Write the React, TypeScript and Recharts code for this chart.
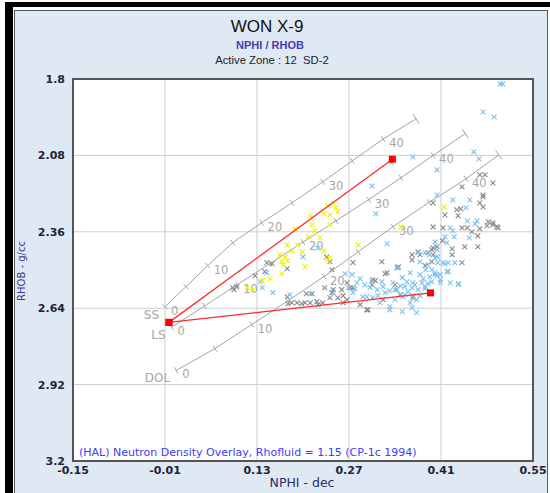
import { ScatterChart, Scatter, XAxis, YAxis, CartesianGrid } from 'recharts'

// axis ticks
const xTicks = [-0.15, -0.01, 0.13, 0.27, 0.41, 0.55]
const yTicks = [1.8, 2.08, 2.36, 2.64, 2.92, 3.2]

// porosity marks along each lithology line (p.u.)
const porosity = [0, 5, 10, 15, 20, 25, 30, 35, 40, 45]

const ssNphi = [-0.010, 0.022, 0.055, 0.093, 0.137, 0.183, 0.230, 0.275, 0.322, 0.372]
const ssRhob = [2.635, 2.561, 2.484, 2.400, 2.327, 2.254, 2.177, 2.100, 2.020, 1.946]
const lsNphi = [0.000, 0.050, 0.100, 0.150, 0.200, 0.250, 0.300, 0.349, 0.398, 0.447]
const lsRhob = [2.710, 2.632, 2.554, 2.476, 2.398, 2.320, 2.242, 2.162, 2.080, 2.000]
const dolNphi = [0.007, 0.066, 0.122, 0.177, 0.232, 0.284, 0.337, 0.392, 0.448, 0.498]
const dolRhob = [2.868, 2.788, 2.700, 2.613, 2.524, 2.433, 2.341, 2.252, 2.166, 2.078]

// red overlay lines: origin -> two end points
const redOrigin: [number, number] = [-0.004, 2.692]
const redUpper: [number, number] = [0.336, 2.094]
const redLower: [number, number] = [0.394, 2.584]

const yellowPts: [number, number][] = [
  [0.238, 2.265], [0.246, 2.254], [0.250, 2.272], [0.253, 2.287], [0.232, 2.294], [0.241, 2.298],
  [0.211, 2.301], [0.214, 2.334], [0.218, 2.356], [0.208, 2.378], [0.226, 2.382], [0.188, 2.349],
  [0.176, 2.408], [0.183, 2.430], [0.192, 2.408], [0.199, 2.433], [0.165, 2.444], [0.173, 2.452],
  [0.168, 2.470], [0.176, 2.466], [0.170, 2.481], [0.168, 2.514], [0.232, 2.430], [0.237, 2.463],
  [0.240, 2.455], [0.203, 2.488], [0.150, 2.532], [0.138, 2.539], [0.115, 2.565], [0.124, 2.572],
  [0.284, 2.408], [0.349, 2.342], [0.415, 2.269], [0.241, 2.334],
]

const grayPts: [number, number][] = [
  [0.145, 2.473], [0.153, 2.477], [0.176, 2.495], [0.142, 2.506], [0.127, 2.521], [0.099, 2.561],
  [0.093, 2.565], [0.095, 2.572], [0.191, 2.620], [0.211, 2.620], [0.233, 2.565], [0.246, 2.572],
  [0.259, 2.572], [0.241, 2.602], [0.253, 2.602], [0.261, 2.620], [0.241, 2.470], [0.244, 2.499],
  [0.205, 2.587], [0.177, 2.624], [0.198, 2.624], [0.223, 2.627], [0.176, 2.598], [0.183, 2.620],
  [0.203, 2.620], [0.221, 2.616], [0.230, 2.620], [0.214, 2.587], [0.244, 2.583], [0.261, 2.594],
  [0.287, 2.627], [0.299, 2.646], [0.236, 2.452], [0.276, 2.473], [0.272, 2.565], [0.320, 2.470],
  [0.328, 2.510], [0.343, 2.492], [0.366, 2.463], [0.378, 2.444], [0.390, 2.437], [0.396, 2.426],
  [0.404, 2.415], [0.306, 2.536], [0.305, 2.554], [0.267, 2.547], [0.276, 2.565], [0.340, 2.554],
  [0.348, 2.591], [0.322, 2.609], [0.267, 2.609], [0.398, 2.254], [0.416, 2.298], [0.434, 2.279],
  [0.440, 2.276], [0.436, 2.301], [0.474, 2.269], [0.474, 2.232], [0.482, 2.323], [0.489, 2.334],
  [0.497, 2.345], [0.442, 2.345], [0.450, 2.345], [0.469, 2.349], [0.457, 2.360], [0.398, 2.342],
  [0.413, 2.345], [0.466, 2.375], [0.412, 2.393], [0.398, 2.419], [0.427, 2.422], [0.446, 2.415],
  [0.466, 2.415], [0.427, 2.444], [0.398, 2.444], [0.442, 2.473], [0.396, 2.470], [0.442, 2.195],
  [0.469, 2.151], [0.477, 2.151], [0.489, 2.181], [0.474, 2.225], [0.469, 2.254], [0.480, 2.338],
  [0.489, 2.327], [0.495, 2.342], [0.366, 2.444], [0.375, 2.433], [0.345, 2.488], [0.325, 2.514],
  [0.310, 2.539], [0.386, 2.484], [0.367, 2.602], [0.297, 2.646],
]

const bluePts: [number, number][] = [
  [0.500, 1.818], [0.504, 1.818], [0.474, 1.921], [0.491, 1.939], [0.460, 2.067], [0.468, 2.093],
  [0.404, 2.133], [0.367, 2.086], [0.335, 2.107], [0.305, 2.192], [0.404, 2.225], [0.311, 2.294],
  [0.428, 2.243], [0.454, 2.243], [0.448, 2.272], [0.465, 2.320], [0.462, 2.331], [0.450, 2.320],
  [0.424, 2.345], [0.428, 2.356], [0.416, 2.378], [0.430, 2.378], [0.453, 2.382], [0.401, 2.397],
  [0.419, 2.400], [0.404, 2.426], [0.405, 2.452], [0.401, 2.455], [0.413, 2.473], [0.421, 2.473],
  [0.431, 2.473], [0.419, 2.506], [0.409, 2.517], [0.401, 2.517], [0.409, 2.547], [0.424, 2.547],
  [0.437, 2.550], [0.396, 2.543], [0.328, 2.404], [0.345, 2.492], [0.264, 2.514], [0.287, 2.532],
  [0.269, 2.565], [0.279, 2.569], [0.276, 2.583], [0.375, 2.437], [0.386, 2.437], [0.393, 2.444],
  [0.378, 2.470], [0.390, 2.481], [0.363, 2.510], [0.378, 2.517], [0.393, 2.525], [0.404, 2.521],
  [0.358, 2.543], [0.367, 2.547], [0.381, 2.547], [0.355, 2.561], [0.366, 2.565], [0.375, 2.572],
  [0.386, 2.569], [0.343, 2.572], [0.332, 2.576], [0.322, 2.561], [0.313, 2.572], [0.302, 2.565],
  [0.294, 2.554], [0.305, 2.543], [0.320, 2.543], [0.337, 2.547], [0.351, 2.528], [0.367, 2.594],
  [0.352, 2.598], [0.306, 2.602], [0.291, 2.598], [0.317, 2.620], [0.332, 2.635], [0.363, 2.620],
  [0.373, 2.609], [0.409, 2.536], [0.436, 2.554], [0.386, 2.561], [0.351, 2.653], [0.373, 2.656],
  [0.366, 2.638], [0.332, 2.646], [0.297, 2.598], [0.421, 2.506], [0.405, 2.473], [0.416, 2.477],
  [0.401, 2.510], [0.223, 2.419], [0.200, 2.452], [0.145, 2.510], [0.138, 2.565], [0.154, 2.583],
  [0.180, 2.591], [0.211, 2.587], [0.246, 2.583], [0.135, 2.543], [0.275, 2.517], [0.282, 2.547],
  [0.340, 2.572], [0.348, 2.558], [0.360, 2.580], [0.370, 2.554], [0.383, 2.532], [0.390, 2.550],
  [0.396, 2.499], [0.387, 2.499], [0.355, 2.591], [0.378, 2.594], [0.325, 2.583], [0.314, 2.594],
  [0.340, 2.609],
]

// plot box in page pixels
const PLOT = { left: 73, top: 79, right: 533, bottom: 461 }
const pxPerX = (PLOT.right - PLOT.left) / (xTicks[5] - xTicks[0])
const pxPerY = (PLOT.bottom - PLOT.top) / (yTicks[5] - yTicks[0])

const GRAY_LINE = '#a3a3a3'
const LABEL_GRAY = '#a6a6a6'

function lithoLine(nphi: number[], rhob: number[], name: string) {
  const n = nphi.length
  return nphi.map((x, i) => {
    const a = Math.max(i - 1, 0)
    const b = Math.min(i + 1, n - 1)
    const ang = Math.atan2((rhob[b] - rhob[a]) * pxPerY, (nphi[b] - nphi[a]) * pxPerX)
    return { x, y: rhob[i], phi: porosity[i], ang, name, last: i === n - 1 }
  })
}

const ssData = lithoLine(ssNphi, ssRhob, 'SS')
const lsData = lithoLine(lsNphi, lsRhob, 'LS')
const dolData = lithoLine(dolNphi, dolRhob, 'DOL')

const toXY = (pts: [number, number][]) => pts.map(([x, y]) => ({ x, y }))

const LithoTick = (p: any) => {
  const { cx, cy, payload } = p
  const len = payload.last ? 5.5 : 3.5
  const nx = -Math.sin(payload.ang) * len
  const ny = Math.cos(payload.ang) * len
  const font = { fontFamily: 'DejaVu Sans', fontSize: 11.5, fill: LABEL_GRAY }
  return (
    <g>
      <line x1={cx - nx} y1={cy - ny} x2={cx + nx} y2={cy + ny} stroke={GRAY_LINE} strokeWidth={1} />
      {payload.phi % 10 === 0 && !payload.last && (
        <text x={cx + 6} y={cy + 8} {...font}>{payload.phi}</text>
      )}
      {payload.phi === 0 && (
        <text x={cx - 6} y={cy + 12} textAnchor="end" {...font} fontSize={12}>{payload.name}</text>
      )}
    </g>
  )
}

const Cross = (color: string) => (p: any) => {
  const { cx, cy } = p
  const s = 2.4
  return (
    <path
      d={`M${cx - s},${cy - s}L${cx + s},${cy + s}M${cx - s},${cy + s}L${cx + s},${cy - s}`}
      stroke={color} strokeWidth={1.1} fill="none"
    />
  )
}

const RedSquare = (p: any) => <rect x={p.cx - 3.5} y={p.cy - 3.5} width={7} height={7} fill="#ff0000" />

const tickStyle = { fill: '#22223a', fontSize: 11, fontFamily: 'DejaVu Sans', fontWeight: 'bold' as const }

export default function App() {
  return (
    <div style={{ position: 'absolute', left: 0, top: 0, width: 550, height: 493, background: '#fff', overflow: 'hidden' }}>
      {/* window frame */}
      <div style={{ position: 'absolute', left: 5, top: 2, width: 560, height: 520, borderLeft: '8px solid #000', borderTop: '5px solid #000' }} />
      <div style={{ position: 'absolute', left: 14, top: 10, width: 532, height: 500, background: '#dfe9f4', border: '1px solid #5a5a5a' }} />

      <div style={{ position: 'absolute', left: 0, top: 0 }}>
        <ScatterChart width={550} height={493} margin={{ top: PLOT.top, right: 550 - PLOT.right, bottom: 12, left: 13 }}>
          <CartesianGrid stroke="#cdcdcd" fill="#ffffff" />
          <XAxis
            type="number" dataKey="x" domain={[xTicks[0], xTicks[5]]} ticks={xTicks} interval={0}
            allowDataOverflow tickFormatter={(v: number) => v.toFixed(2)}
            tick={tickStyle} tickLine={false} axisLine={false} height={20} tickSize={5} tickMargin={0}
          />
          <YAxis
            type="number" dataKey="y" domain={[yTicks[0], yTicks[5]]} ticks={yTicks} interval={0} reversed
            allowDataOverflow tickFormatter={(v: number) => String(v)}
            tick={tickStyle} tickLine={false} axisLine={false} width={60}
          />
          <Scatter data={ssData} line={{ stroke: GRAY_LINE, strokeWidth: 1 }} shape={LithoTick} isAnimationActive={false} />
          <Scatter data={lsData} line={{ stroke: GRAY_LINE, strokeWidth: 1 }} shape={LithoTick} isAnimationActive={false} />
          <Scatter data={dolData} line={{ stroke: GRAY_LINE, strokeWidth: 1 }} shape={LithoTick} isAnimationActive={false} />
          <Scatter data={toXY(grayPts)} shape={Cross('#8a8a8a')} isAnimationActive={false} />
          <Scatter data={toXY(bluePts)} shape={Cross('#7cc2f0')} isAnimationActive={false} />
          <Scatter data={toXY(yellowPts)} shape={Cross('#f0f000')} isAnimationActive={false} />
          <Scatter data={toXY([redOrigin, redUpper])} line={{ stroke: '#ff2a2a', strokeWidth: 1.3 }} shape={RedSquare} isAnimationActive={false} />
          <Scatter data={toXY([redOrigin, redLower])} line={{ stroke: '#ff2a2a', strokeWidth: 1.3 }} shape={RedSquare} isAnimationActive={false} />
        </ScatterChart>
      </div>

      {/* plot frame */}
      <div style={{ position: 'absolute', left: PLOT.left - 1, top: PLOT.top - 1, width: PLOT.right - PLOT.left - 2, height: PLOT.bottom - PLOT.top - 2, border: '2px solid #555', pointerEvents: 'none' }} />

      {/* titles */}
      <div style={{ position: 'absolute', left: 267, top: 27, transform: 'translate(-50%,-50%)', fontFamily: 'Liberation Sans', fontSize: 17, color: '#111', whiteSpace: 'nowrap' }}>WON X-9</div>
      <div style={{ position: 'absolute', left: 270, top: 45, transform: 'translate(-50%,-50%)', fontFamily: 'Liberation Sans', fontSize: 11, fontWeight: 'bold', color: '#4a3cb4', whiteSpace: 'nowrap' }}>NPHI / RHOB</div>
      <div style={{ position: 'absolute', left: 272, top: 60, transform: 'translate(-50%,-50%)', fontFamily: 'Liberation Sans', fontSize: 11.3, color: '#222', whiteSpace: 'pre' }}>Active Zone : 12  SD-2</div>

      {/* axis titles */}
      <div style={{ position: 'absolute', left: 21, top: 271, transform: 'translate(-50%,-50%) rotate(-90deg)', fontFamily: 'DejaVu Sans', fontSize: 10, color: '#3b3b96', whiteSpace: 'nowrap' }}>RHOB - g/cc</div>
      <div style={{ position: 'absolute', left: 302, top: 482, transform: 'translate(-50%,-50%)', fontFamily: 'DejaVu Sans', fontSize: 12.5, color: '#2a2a6e', whiteSpace: 'nowrap' }}>NPHI - dec</div>

      {/* overlay note */}
      <div style={{ position: 'absolute', left: 79, top: 452, transform: 'translateY(-50%)', fontFamily: 'DejaVu Sans', fontSize: 11, color: '#3c3cff', whiteSpace: 'nowrap' }}>
        (HAL) Neutron Density Overlay, Rhofluid = 1.15 (CP-1c 1994)
      </div>
    </div>
  )
}
